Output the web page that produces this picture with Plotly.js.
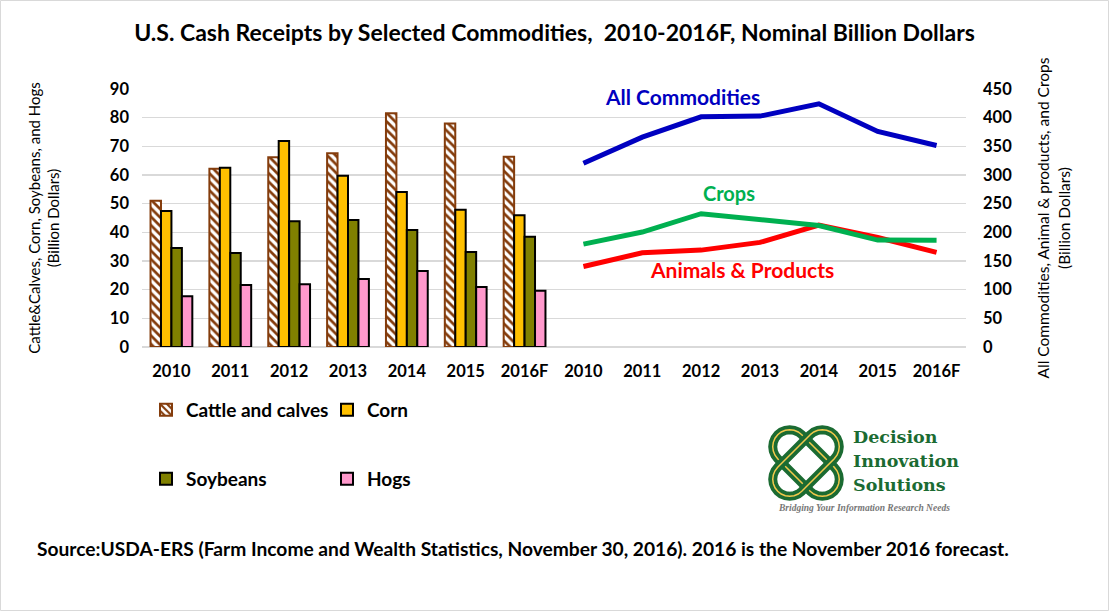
<!DOCTYPE html>
<html>
<head>
<meta charset="utf-8">
<script src="https://cdn.plot.ly/plotly-3.0.1.min.js"></script>
<style>
html,body{margin:0;padding:0;background:#fff;}
#chart{width:1109px;height:611px;}
</style>
</head>
<body>
<div id="chart"></div>
<script>
// ---- data ----
const years = ["2010","2011","2012","2013","2014","2015","2016F"];
const cattle   = [51.0, 62.2, 66.2, 67.6, 81.5, 78.0, 66.4];
const corn     = [47.4, 62.5, 71.9, 59.7, 54.1, 47.9, 46.0];
const soybeans = [34.5, 32.8, 43.9, 44.3, 40.8, 33.1, 38.5];
const hogs     = [17.7, 21.6, 21.9, 23.7, 26.5, 20.9, 19.6];
const allCommodities = [320.5, 366.0, 401.5, 402.7, 424.2, 375.9, 351.4];
const crops          = [179.5, 200.5, 232.5, 222.6, 212.0, 186.5, 186.0];
const animals        = [140.5, 164.3, 169.0, 182.4, 212.7, 191.0, 165.0];
const tickLabels = years.concat(years);

// ---- positions ----
const barX = years.map((y,i)=>i);
const lineX = years.map((y,i)=>i+7);
const FONT = "Lato, 'Open Sans', sans-serif";

const traces = [
  {type:'bar', name:'Cattle and calves', x:barX, y:cattle, legend:'legend',
   marker:{color:'#ffffff', line:{color:'#843C0C', width:2},
           pattern:{shape:'\\', fgcolor:'#843C0C', bgcolor:'#ffffff', size:6, solidity:0.45}}},
  {type:'bar', name:'Corn', x:barX, y:corn, legend:'legend',
   marker:{color:'#FFC000', line:{color:'#000000', width:2}}},
  {type:'bar', name:'Soybeans', x:barX, y:soybeans, legend:'legend2',
   marker:{color:'#808000', line:{color:'#000000', width:2}}},
  {type:'bar', name:'Hogs', x:barX, y:hogs, legend:'legend2',
   marker:{color:'#FF99CC', line:{color:'#000000', width:2}}},
  {type:'scatter', mode:'lines', name:'All Commodities', x:lineX, y:allCommodities, yaxis:'y2',
   line:{color:'#0000C0', width:5}, showlegend:false},
  {type:'scatter', mode:'lines', name:'Animals & Products', x:lineX, y:animals, yaxis:'y2',
   line:{color:'#FF0000', width:5}, showlegend:false},
  {type:'scatter', mode:'lines', name:'Crops', x:lineX, y:crops, yaxis:'y2',
   line:{color:'#00B050', width:5}, showlegend:false}
];

// pixel -> paper helpers (plot area 142..966 x, 89..347 y)
const L=142, R=966, T=89, B=347;
const px = v => (v-L)/(R-L);
const py = v => (B-v)/(B-T);

function stadium(cx, cy, len, wid, ang){
  const a = ang*Math.PI/180, ux=Math.cos(a), uy=Math.sin(a), vx=-uy, vy=ux;
  const r = wid/2, h = len/2 - r;
  const pts=[];
  for(let k=0;k<=12;k++){ const t=-Math.PI/2+Math.PI*k/12;
    pts.push([cx+ux*(h+r*Math.cos(t))+vx*r*Math.sin(t), cy+uy*(h+r*Math.cos(t))+vy*r*Math.sin(t)]); }
  for(let k=0;k<=12;k++){ const t=Math.PI/2+Math.PI*k/12;
    pts.push([cx+ux*(-h+r*Math.cos(t))+vx*r*Math.sin(t), cy+uy*(-h+r*Math.cos(t))+vy*r*Math.sin(t)]); }
  return 'M '+pts.map(p=>px(p[0]).toFixed(5)+','+py(p[1]).toFixed(5)).join(' L ')+' Z';
}

const shapes = [
  {type:'rect', xref:'paper', yref:'paper', x0:px(0.5), x1:px(1108.5), y0:py(610.5), y1:py(0.5),
   line:{color:'#D9D9D9', width:1}, layer:'below'}
];
[45,-45].forEach(a=>{
  const p = stadium(806, 463, 80, 34, a);
  shapes.push({type:'path', xref:'paper', yref:'paper', path:p, line:{color:'#1B6B32', width:9}});
  shapes.push({type:'path', xref:'paper', yref:'paper', path:p, line:{color:'#F2C94C', width:1.5}});
});

const annotations = [
  {x:8.69, y:437, xref:'x', yref:'y2', yanchor:'middle', text:'<b>All Commodities</b>', showarrow:false,
   font:{family:FONT, size:21, color:'#0000C0'}},
  {x:9.47, y:268, xref:'x', yref:'y2', yanchor:'middle', text:'<b>Crops</b>', showarrow:false,
   font:{family:FONT, size:20, color:'#00B050'}},
  {x:9.69, y:136, xref:'x', yref:'y2', yanchor:'middle', text:'<b>Animals &amp; Products</b>', showarrow:false,
   font:{family:FONT, size:21, color:'#FF0000'}},
  {x:px(523), y:py(548), xref:'paper', yref:'paper', xanchor:'center', yanchor:'middle', showarrow:false,
   text:'<b>Source:USDA-ERS (Farm Income and Wealth Statistics, November 30, 2016). 2016 is the November 2016 forecast.</b>',
   font:{family:FONT, size:19.2, color:'#000'}},
  {x:px(851), y:py(437), xref:'paper', yref:'paper', xanchor:'left', yanchor:'middle', showarrow:false,
   text:'<b>Decision</b>', font:{family:"'DejaVu Serif', serif", size:17.5, color:'#1B6B32'}},
  {x:px(851), y:py(461), xref:'paper', yref:'paper', xanchor:'left', yanchor:'middle', showarrow:false,
   text:'<b>Innovation</b>', font:{family:"'DejaVu Serif', serif", size:17.5, color:'#1B6B32'}},
  {x:px(851), y:py(485), xref:'paper', yref:'paper', xanchor:'left', yanchor:'middle', showarrow:false,
   text:'<b>Solutions</b>', font:{family:"'DejaVu Serif', serif", size:17.5, color:'#1B6B32'}},
  {x:px(864), y:py(508), xref:'paper', yref:'paper', xanchor:'center', yanchor:'middle', showarrow:false,
   text:'<b><i>Bridging Your Information Research Needs</i></b>', font:{family:"'Liberation Serif', serif", size:9.5, color:'#777'}}
];

const layout = {
  width:1109, height:611,
  margin:{l:L, r:1109-R, t:T, b:611-B},
  paper_bgcolor:'#fff', plot_bgcolor:'#fff',
  font:{family:FONT, color:'#000'},
  title:{text:'<b>U.S. Cash Receipts by Selected Commodities,  2010-2016F, Nominal Billion Dollars</b>',
         x:0.5, xanchor:'center', y:0.946, yanchor:'middle', font:{family:FONT, size:23, color:'#000'}},
  barmode:'group', bargap:0.29, bargroupgap:0,
  xaxis:{range:[-0.5,13.5], tickvals:tickLabels.map((t,i)=>i), ticktext:tickLabels.map(t=>'<b>'+t+'</b>'),
         showgrid:false, zeroline:false, showline:false, ticks:'', tickfont:{family:FONT, size:16.5},
         ticklabelstandoff:12, fixedrange:true},
  yaxis:{range:[0,90], dtick:10, tick0:0, showgrid:true, gridcolor:'#D9D9D9', gridwidth:1.5,
         zeroline:true, zerolinecolor:'#D9D9D9', zerolinewidth:1.5, showline:false, ticks:'',
         tickfont:{family:FONT, size:16.5}, tickprefix:'<b>', ticksuffix:'</b>', automargin:false,
         ticklabelstandoff:12,
         title:{text:'Cattle&amp;Calves, Corn, Soybeans, and Hogs<br>(Billion Dollars)',
                font:{family:FONT, size:15}, standoff:46}},
  yaxis2:{range:[0,450], dtick:50, tick0:0, overlaying:'y', side:'right', showgrid:false, zeroline:false,
          showline:false, ticks:'', tickfont:{family:FONT, size:16.5}, tickprefix:'<b>', ticksuffix:'</b>', automargin:false,
          ticklabelstandoff:16,
          title:{text:'All Commodities, Animal &amp; products, and Crops<br>(Billion Dollars)',
                 font:{family:FONT, size:15.5}, standoff:27}},
  legend:{orientation:'h', x:px(146), y:py(410), xanchor:'left', yanchor:'middle', entrywidth:136,
          font:{family:FONT, size:19}, bgcolor:'rgba(0,0,0,0)', traceorder:'normal'},
  legend2:{orientation:'h', x:px(146), y:py(479), xanchor:'left', yanchor:'middle', entrywidth:136,
          font:{family:FONT, size:19}, bgcolor:'rgba(0,0,0,0)', traceorder:'normal'},
  shapes:shapes,
  annotations:annotations,
  showlegend:true
};
traces.forEach(t=>{ if(t.type==='bar'){ t.name='<b>'+t.name+'</b>'; }});
Plotly.newPlot('chart', traces, layout, {displayModeBar:false, staticPlot:true});
</script>
</body>
</html>
